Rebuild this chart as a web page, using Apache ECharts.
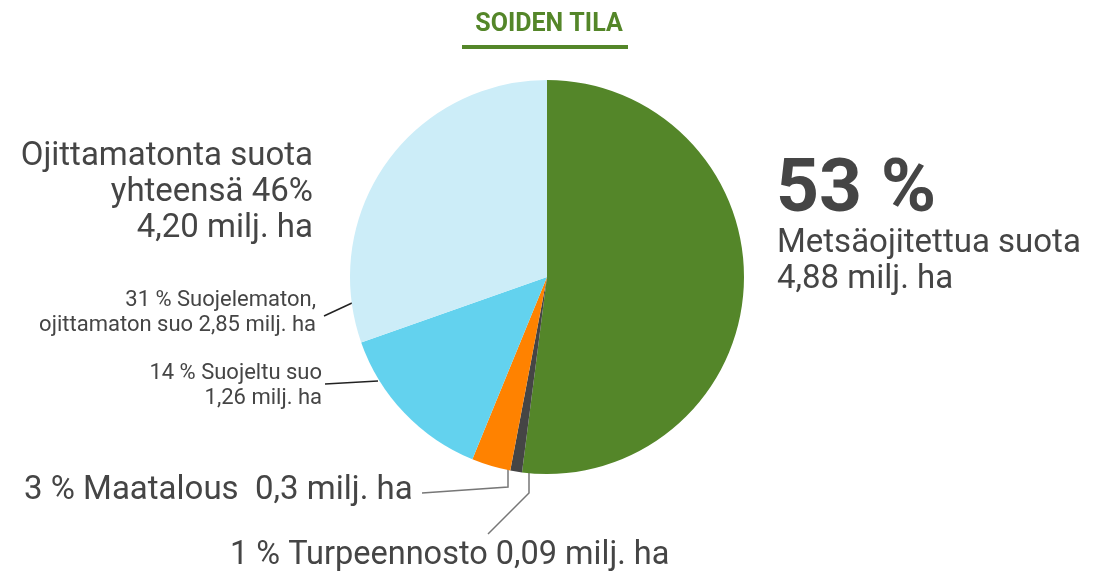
<!DOCTYPE html>
<html>
<head>
<meta charset="utf-8">
<script src="https://cdn.jsdelivr.net/npm/echarts@6/dist/echarts.min.js"></script>
<style>
  html, body { margin: 0; padding: 0; background: #fff; }
  #chart { width: 1111px; height: 573px; }
</style>
</head>
<body>
<div id="chart"></div>
<script>
// soiden tila, milj. ha
var categories = ['Metsäojitettua suota', 'Turpeennosto', 'Maatalous', 'Suojeltu suo', 'Suojelematon, ojittamaton suo'];
var values = [4.88, 0.09, 0.3, 1.26, 2.85];
var colors = ['#548629', '#454545', '#ff8200', '#63d2ee', '#ccedf8'];

var textColor = '#454545';
var font = 'Roboto';

var chart = echarts.init(document.getElementById('chart'));

var option = {
    backgroundColor: '#fff',
    animation: false,
    title: {
        text: 'SOIDEN TILA',
        left: 544,
        top: 7,
        textAlign: 'center',
        textStyle: { color: '#548629', fontFamily: font, fontWeight: 'bold', fontSize: 25 }
    },
    graphic: [
        // title underline
        { type: 'rect', shape: { x: 462, y: 45, width: 166, height: 4 }, style: { fill: '#548629' } },
        // right big label
        { type: 'text', x: 776, y: 192, style: { text: '53 %', font: 'bold 75px Roboto', fill: textColor, verticalAlign: 'middle' } },
        { type: 'text', x: 777, y: 244, style: { text: 'Metsäojitettua suota', font: '33px Roboto', fill: textColor, verticalAlign: 'middle' } },
        { type: 'text', x: 777, y: 280, style: { text: '4,88 milj. ha', font: '33px Roboto', fill: textColor, verticalAlign: 'middle' } },
        // left summary
        { type: 'text', x: 313, y: 157, style: { text: 'Ojittamatonta suota', font: '33px Roboto', fill: textColor, align: 'right', verticalAlign: 'middle' } },
        { type: 'text', x: 313, y: 193, style: { text: 'yhteensä 46%', font: '33px Roboto', fill: textColor, align: 'right', verticalAlign: 'middle' } },
        { type: 'text', x: 313, y: 229, style: { text: '4,20 milj. ha', font: '33px Roboto', fill: textColor, align: 'right', verticalAlign: 'middle' } },
        // 31 %
        { type: 'text', x: 316, y: 300, style: { text: '31 % Suojelematon,', font: '22px Roboto', fill: textColor, align: 'right', verticalAlign: 'middle' } },
        { type: 'text', x: 316, y: 325, style: { text: 'ojittamaton suo 2,85 milj. ha', font: '22px Roboto', fill: textColor, align: 'right', verticalAlign: 'middle' } },
        { type: 'polyline', shape: { points: [[324, 316], [352, 303]] }, style: { stroke: '#222', lineWidth: 1.5, fill: null } },
        // 14 %
        { type: 'text', x: 322, y: 373, style: { text: '14 % Suojeltu suo', font: '22px Roboto', fill: textColor, align: 'right', verticalAlign: 'middle' } },
        { type: 'text', x: 322, y: 398, style: { text: '1,26 milj. ha', font: '22px Roboto', fill: textColor, align: 'right', verticalAlign: 'middle' } },
        { type: 'polyline', shape: { points: [[325, 384], [378, 381]] }, style: { stroke: '#222', lineWidth: 1.5, fill: null } },
        // 3 %
        { type: 'text', x: 24, y: 491, style: { text: '3 % Maatalous  0,3 milj. ha', font: '33px Roboto', fill: textColor, verticalAlign: 'middle' } },
        { type: 'polyline', shape: { points: [[422, 493], [508, 487], [508, 468]] }, style: { stroke: '#777', lineWidth: 1.5, fill: null } },
        // 1 %
        { type: 'text', x: 230, y: 556, style: { text: '1 % Turpeennosto 0,09 milj. ha', font: '32.5px Roboto', fill: textColor, verticalAlign: 'middle' } },
        { type: 'polyline', shape: { points: [[529, 471], [529, 493], [488, 534]] }, style: { stroke: '#777', lineWidth: 1.5, fill: null } }
    ],
    series: [{
        type: 'pie',
        center: [547, 277],
        radius: 197,
        startAngle: 90,
        clockwise: true,
        label: { show: false },
        labelLine: { show: false },
        emphasis: { disabled: true },
        itemStyle: { borderWidth: 0 },
        data: categories.map(function (c, i) {
            return { name: c, value: values[i], itemStyle: { color: colors[i] } };
        })
    }]
};

chart.setOption(option);
</script>
</body>
</html>
